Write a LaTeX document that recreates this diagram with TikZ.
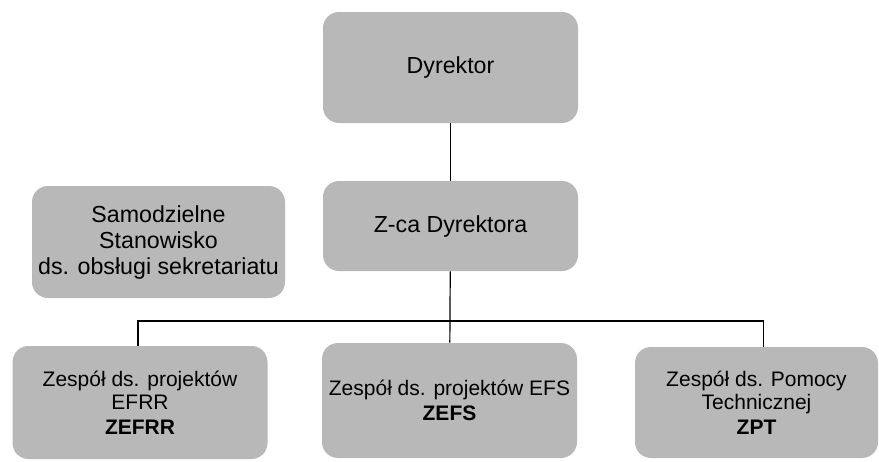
\documentclass[tikz,border=0pt]{standalone}
\usepackage{fontspec}
\setmainfont{Liberation Sans}
\definecolor{boxgray}{gray}{0.72}

\begin{document}
\begin{tikzpicture}[x = 0.5pt, y = -0.5pt,
	unit/.style = {fill = boxgray, rounded corners = 8pt, align = center, inner sep = 0pt, minimum width = 127.5pt},
	big/.style = {font = \fontsize{11.6}{13}\selectfont},
	small/.style = {font = \fontsize{10.5}{11.4}\selectfont}]
	\useasboundingbox (0,0) rectangle (879,461);

	\path
	(450.5,67.5) node[unit, big, minimum height = 55.5pt](DYR){Dyrektor}
	(450.5,226) node[unit, big, minimum height = 45pt](ZCA){Z-ca Dyrektora}
	(158.5,242) node[unit, big, minimum height = 56pt, minimum width = 126.5pt](SSS){Samodzielne\\Stanowisko\\ds. obsługi sekretariatu}
	(140,402.5) node[unit, small, minimum height = 56.5pt](ZEFRR){Zespół ds. projektów\\EFRR\\[1pt]\textbf{ZEFRR}}
	(449.5,400.5) node[unit, small, minimum height = 57.5pt](ZEFS){Zespół ds. projektów EFS\\[1pt]\textbf{ZEFS}}
	(756.5,402.5) node[unit, small, minimum height = 55.5pt, minimum width = 121.5pt](ZPT){Zespół ds. Pomocy\\Technicznej\\[1pt]\textbf{ZPT}};

	\coordinate (BUS) at (449.5,321);

	\draw[line width = 0.6pt] (DYR) -- (ZCA);
	\draw[line width = 0.6pt] (ZCA) -- (ZEFS);
	\draw[line width = 0.6pt] ([xshift = -1pt]ZEFRR.north) |- (BUS) -| ([xshift = 3.5pt]ZPT.north);
\end{tikzpicture}
\end{document}
